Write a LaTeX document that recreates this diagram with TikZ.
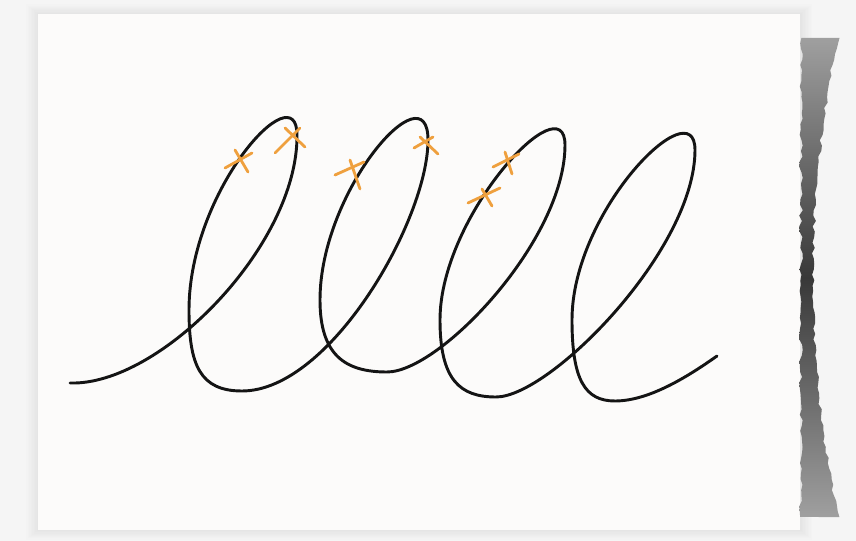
\documentclass[tikz,border=0pt]{standalone}
\usepackage{tikz}
\usetikzlibrary{calc}

\definecolor{paper}{HTML}{FCFBFA}
\definecolor{backdrop}{HTML}{F5F5F5}
\definecolor{markorange}{HTML}{EFA03E}

\begin{document}
\begin{tikzpicture}[
  x=0.03cm, y=-0.03cm,
  loopline/.style={line width=2.5pt, line cap=round, line join=round, black!92},
  tick/.style={line width=2.4pt, line cap=round, markorange},
]
\useasboundingbox (0,0) rectangle (856,541);
\fill[backdrop] (0,0) rectangle (856,541);

% Soft shadow round the card
\foreach \d in {1,...,8}
  \fill[black, opacity=0.006] (38-1.5*\d,14-1.2*\d) rectangle (800+1.5*\d,530+1.2*\d);

% Card
\fill[paper] (38,14) rectangle (800,530);

% Torn edge
\pgfmathsetseed{7}
\shade[top color=gray!75, bottom color=gray!75, middle color=black!78]
  plot[domain=38:517, samples=90] ({801+1.8*rand}, \x)
  -- plot[domain=517:38, samples=90]
     ({813+25*((\x-277)/239)*((\x-277)/239)+1.5*rand}, \x) -- cycle;

% Loops
\draw[loopline] (70,383)
  .. controls (160,386) and (298,245) .. (297,135)   % loop 1
  .. controls (297,72) and (189,190) .. (189,310)
  .. controls (189,365) and (200,391) .. (242,391)
  .. controls (330,391) and (428,220) .. (428,140)   % loop 2
  .. controls (428,68) and (320,190) .. (320,300)
  .. controls (320,355) and (345,372) .. (387,372)
  .. controls (440,372) and (565,240) .. (565,145)   % loop 3
  .. controls (565,82) and (440,215) .. (440,320)
  .. controls (440,380) and (460,397) .. (496,397)
  .. controls (550,397) and (695,250) .. (695,150)   % loop 4
  .. controls (695,88) and (572,210) .. (572,320)
  .. controls (572,380) and (585,401) .. (615,401)
  .. controls (650,401) and (690,375) .. (717,356);

% Marks
\foreach \ax/\ay/\bx/\by/\cx/\cy/\dx/\dy in {
    225/168/252/153/235/150/248/172,
    275/153/300/128/285/128/305/147,
    335/175/364/162/350/160/360/189,
    414/148/433/137/420/137/438/154,
    493/167/519/154/505/152/512/174,
    468/203/500/188/482/189/492/206} {
  \draw[tick] (\ax,\ay) -- (\bx,\by);
  \draw[tick] (\cx,\cy) -- (\dx,\dy);
}

\end{tikzpicture}
\end{document}
